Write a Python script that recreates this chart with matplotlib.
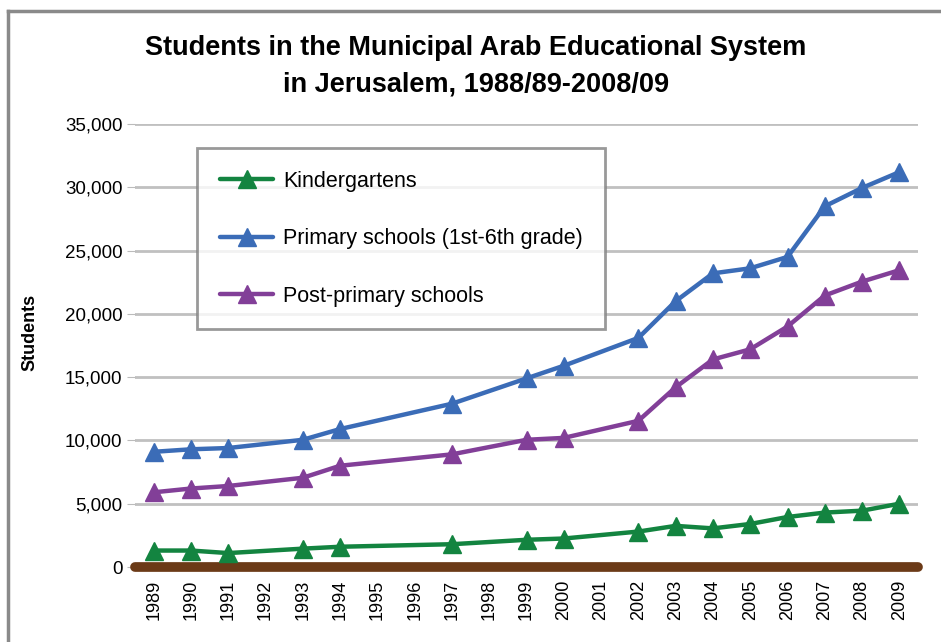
import matplotlib
matplotlib.use("Agg")
import matplotlib.pyplot as plt
from matplotlib.lines import Line2D
from matplotlib.ticker import FuncFormatter

plt.rcParams['font.family'] = ['Liberation Sans', 'DejaVu Sans']

years_axis = list(range(1989, 2010))
years = [1989, 1990, 1991, 1993, 1994, 1997, 1999, 2000, 2002, 2003, 2004, 2005, 2006, 2007, 2008, 2009]
kindergartens = [1300, 1300, 1100, 1450, 1600, 1800, 2150, 2250, 2800, 3250, 3050, 3400, 3950, 4300, 4450, 5000]
primary = [9100, 9300, 9400, 10050, 10900, 12900, 14900, 15900, 18100, 21000, 23200, 23600, 24500, 28500, 29950, 31200]
post_primary = [5900, 6200, 6400, 7050, 8000, 8900, 10050, 10200, 11550, 14200, 16400, 17200, 19000, 21450, 22550, 23450]
series_names = ["Kindergartens", "Primary schools (1st-6th grade)", "Post-primary schools"]
colors = ["#138440", "#3b6cb7", "#823f98"]

fig = plt.figure(figsize=(9.41, 6.42), dpi=100)
ax = fig.add_axes([135/941, 1 - 567/642, (918-135)/941, (567-124)/642])

for vals, name, c in zip([kindergartens, primary, post_primary], series_names, colors):
    ax.plot(years, vals, color=c, lw=3.2, marker='^', markersize=12.5, label=name,
            solid_capstyle='round', solid_joinstyle='round', zorder=3)

ax.set_xlim(1988.5, 2009.5)
ax.set_ylim(0, 35000)
ax.set_yticks(range(0, 35001, 5000))
ax.yaxis.set_major_formatter(FuncFormatter(lambda v, p: f"{int(v):,}"))
ax.set_xticks(years_axis)
ax.set_xticklabels([str(y) for y in years_axis], rotation=90, fontsize=13)
ax.tick_params(axis='y', labelsize=13.5, length=6, color='#bbbbbb', pad=3)
ax.tick_params(axis='x', length=0, pad=9)
ax.grid(axis='y', color='#c0c0c0', lw=2)
ax.set_axisbelow(True)
for s in ax.spines.values():
    s.set_visible(False)

# brown x-axis line
ax.plot([0, 1], [0, 0], transform=ax.transAxes, color='#6b3a17', lw=7,
        solid_capstyle='round', clip_on=False, zorder=2)

fig.text(30/941, 1 - 332/642, "Students", rotation=90, fontsize=13, fontweight='bold',
         ha='center', va='center')

fig.text(476/941, 1 - 48/642, "Students in the Municipal Arab Educational System",
         fontsize=19.5, fontweight='bold', ha='center', va='center')
fig.text(476/941, 1 - 85/642, "in Jerusalem, 1988/89-2008/09",
         fontsize=19.5, fontweight='bold', ha='center', va='center')

leg = ax.legend(loc='upper left', bbox_to_anchor=((197-135)/783, (567-148)/443),
                fontsize=15.5, frameon=True, fancybox=False, handlelength=2.5,
                labelspacing=1.7, borderpad=1.05, handletextpad=0.45, borderaxespad=0)
leg.get_frame().set_edgecolor('#808080')
leg.get_frame().set_linewidth(2)

# outer grey frame (left & top)
fig.add_artist(Line2D([8/941, 8/941], [0, 1 - 11/642], transform=fig.transFigure, color='#8a8a8a', lw=2.5))
fig.add_artist(Line2D([8/941, 1], [1 - 11/642, 1 - 11/642], transform=fig.transFigure, color='#8a8a8a', lw=2.5))

fig.savefig("out.png", dpi=100)
